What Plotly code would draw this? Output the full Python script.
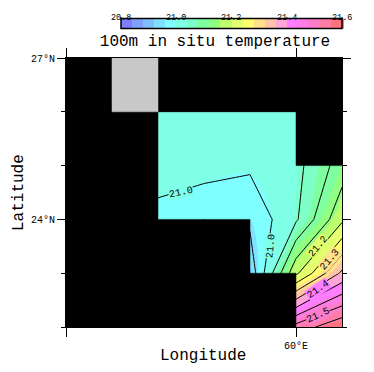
import plotly.graph_objects as go

lons = [57, 58, 59, 60, 61]
lats = [26, 25, 24, 23, 22]
temperature = [
    [21.010, 21.015, 21.020, 21.030, None],
    [21.006, 21.005, 21.008, 21.035, 21.123],
    [20.996, 20.990, 20.960, 21.043, 21.190],
    [None, None, 20.916, 21.190, 21.360],
    [None, None, None, 21.520, 21.590],
]
band_colors = [
    "#7d7dff", "#7fa0ff", "#7fbeff", "#7fe1ff", "#7fffff",
    "#7fffe6", "#7fffc8", "#7fffa0", "#91ff7f", "#beff6e",
    "#e1ff6e", "#ffff6e", "#ffe18c", "#ffc3aa", "#ffa5d7",
    "#ff7dff", "#ff7de6", "#ff7dc8", "#ff7da5", "#ff737d",
]
band_start, band_end, band_size = 20.8, 21.6, 0.04
line_levels = [20.95, 21.0, 21.05, 21.1, 21.15, 21.2, 21.25, 21.3, 21.35, 21.4, 21.45, 21.5, 21.55]
colorbar_ticks = [20.8, 21.0, 21.2, 21.4, 21.6]

label_levels = [21.0, 21.0, 21.2, 21.3, 21.4, 21.5]
label_lons = [57.5, 59.45, 60.48, 60.74, 60.48, 60.48]
label_lats = [24.5, 23.5, 23.5, 23.25, 22.7, 22.22]
label_angles = [-12, -85, -50, -50, -35, -25]

cell_lons = [55, 56, 57, 58, 59, 60]
cell_lats = [26, 25, 24, 23, 22]  # south edge of each row
# 0 = land (black), 1 = undefined (grey), None = ocean data
mask = [
    [0, 1, 0, 0, 0, 0],
    [0, 0, None, None, None, 0],
    [0, 0, None, None, None, None],
    [0, 0, 0, 0, None, None],
    [0, 0, 0, 0, 0, None],
]

scale = []
n = len(band_colors)
for i, c in enumerate(band_colors):
    scale.append([i / n, c])
    scale.append([(i + 1) / n, c])

OFF = 8  # the page body adds an 8 px margin
W, H = 374 - OFF, 372 - OFF
L, R, T, B = 66 - OFF, 342 - OFF, 58 - OFF, 327 - OFF
pw, ph = R - L, B - T
CB_L, CB_R, CB_T, CB_B = 121 - OFF, 342 - OFF, 20 - OFF, 30 - OFF
mono = "Liberation Mono"

fig = go.Figure()
fig.add_trace(go.Contour(
    x=lons, y=lats, z=temperature, zmin=band_start, zmax=band_end,
    colorscale=scale, autocontour=False,
    contours=dict(coloring="fill", start=band_start, end=band_end, size=band_size, showlines=False),
    line=dict(width=0),
    colorbar=dict(
        orientation="h", lenmode="fraction", len=(CB_R - CB_L) / pw, thickness=CB_B - CB_T, thicknessmode="pixels",
        x=(CB_L - L) / pw, xanchor="left", y=(B - CB_B) / ph, yanchor="bottom", xpad=0, ypad=0,
        outlinecolor="black", outlinewidth=1.5, borderwidth=0,
        tickmode="array", tickvals=colorbar_ticks, ticks="", showticklabels=False,
    ),
    hoverinfo="skip",
))
for lv in line_levels:
    fig.add_trace(go.Contour(
        x=lons, y=lats, z=temperature, showscale=False, autocontour=False,
        contours=dict(coloring="none", start=lv, end=lv, size=1),
        line=dict(color="black", width=1, smoothing=0), hoverinfo="skip",
    ))

def cells(value):
    xs, ys = [], []
    for row, south in zip(mask, cell_lats):
        for v, west in zip(row, cell_lons):
            if v == value:
                xs += [west, west + 1, west + 1, west, west, None]
                ys += [south, south, south + 1, south + 1, south, None]
    return xs, ys

for value, color in [(0, "black"), (1, "#c8c8c8")]:
    xs, ys = cells(value)
    fig.add_trace(go.Scatter(x=xs, y=ys, mode="lines", fill="toself", fillcolor=color,
                             line=dict(color=color, width=0.5), showlegend=False, hoverinfo="skip"))

def level_color(v):
    i = min(n - 1, int((v + 0.001 - band_start) / band_size))
    return band_colors[i]

annotations = []
for lv, lo, la, an in zip(label_levels, label_lons, label_lats, label_angles):
    annotations.append(dict(x=lo, y=la, xref="x", yref="y", text=f"{lv:.1f}", textangle=an, showarrow=False,
                            font=dict(family=mono, size=10, color="black"), bgcolor=level_color(lv), borderpad=0))
shapes = []
for v in colorbar_ticks:
    fx = (CB_L + (v - band_start) / (band_end - band_start) * (CB_R - CB_L) - L) / pw
    shapes.append(dict(type="line", xref="paper", yref="paper", x0=fx, x1=fx,
                       y0=(B - CB_T) / ph, y1=(B - (17 - OFF)) / ph, line=dict(color="black", width=1)))
    annotations.append(dict(xref="paper", yref="paper", x=fx, y=(B - (18 - OFF)) / ph, yanchor="middle", xanchor="center",
                            text=f"{v:.1f}", showarrow=False, font=dict(family=mono, size=8.5, color="black")))

annotations.append(dict(xref="paper", yref="paper", x=(203 - OFF - L) / pw, y=(B - (356 - OFF)) / ph,
                        xanchor="center", yanchor="middle", text="Longitude", showarrow=False,
                        font=dict(family=mono, size=16, color="black")))
annotations.append(dict(xref="paper", yref="paper", x=(19 - OFF - L) / pw, y=(B - (193 - OFF)) / ph,
                        xanchor="center", yanchor="middle", text="Latitude", textangle=-90, showarrow=False,
                        font=dict(family=mono, size=16, color="black")))

fig.update_layout(
    width=W, height=H, paper_bgcolor="white", plot_bgcolor="black", showlegend=False,
    margin=dict(l=L, r=W - R, t=T, b=H - B, autoexpand=False),
    title=dict(text="100m in situ temperature", x=(215 - OFF) / W, y=1 - 38 / H, xanchor="center", yanchor="middle",
               xref="container", yref="container", font=dict(family=mono, size=16, color="black")),
    xaxis=dict(range=[55, 61], tickmode="array", tickvals=[55, 60], ticktext=["", "60°E"], ticks="outside",
               ticklen=9, tickcolor="black", showgrid=False, zeroline=False, showline=True, linecolor="black",
               mirror="allticks", tickfont=dict(family=mono, size=10, color="black")),
    yaxis=dict(range=[22, 27], tickmode="array", tickvals=[24, 27], ticktext=["24°N", "27°N"], ticks="outside",
               ticklen=8, tickcolor="black", showgrid=False, zeroline=False, showline=True, linecolor="black",
               mirror="allticks", tickfont=dict(family=mono, size=10, color="black"),
               minor=dict(tickmode="array", tickvals=[22, 23, 25, 26], ticks="outside", ticklen=4, tickcolor="black", showgrid=False)),
    shapes=shapes, annotations=annotations,
)
fig.write_html("out.html")
